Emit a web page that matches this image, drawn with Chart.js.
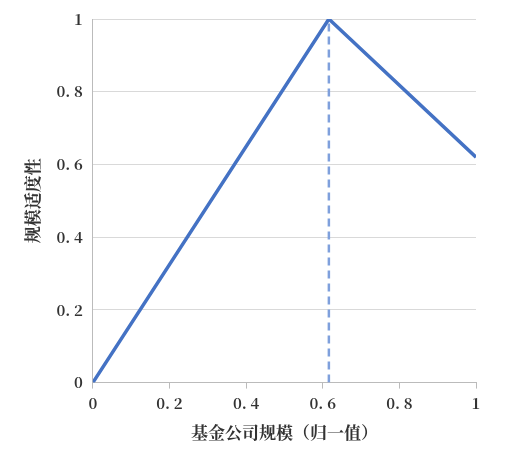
<!DOCTYPE html>
<html><head><meta charset="utf-8">
<script src="https://cdn.jsdelivr.net/npm/chart.js@4"></script>
<style>html,body{margin:0;background:#fff}#wrap{width:518px;height:455px}</style>
</head><body><div id="wrap"><canvas id="c"></canvas></div>
<script>
const lineX = [0, 0.616, 1];
const lineY = [0, 1, 0.62];
const peakX = 0.616;
const xTicks = [0, 0.2, 0.4, 0.6, 0.8, 1];
const yTicks = [0, 0.2, 0.4, 0.6, 0.8, 1];
const fnt = {family: '"Noto Serif CJK SC","Noto Sans CJK SC", serif', size: 15, weight: 'bold'};
const tickFmt = v => String(v).replace('.', '. ');

new Chart(document.getElementById('c'), {
  type: 'scatter',
  data: {
    datasets: [
      {data: lineX.map((x, i) => ({x, y: lineY[i]})), showLine: true, borderColor: '#4472C4', borderWidth: 3.5, pointRadius: 0, tension: 0},
      {data: [{x: peakX, y: 0}, {x: peakX, y: 1}], showLine: true, borderColor: '#7FA0DC', borderWidth: 2.5, borderDash: [8, 5], pointRadius: 0}
    ]
  },
  options: {
    responsive: true, maintainAspectRatio: false, animation: false,
    layout: {padding: {top: 12, right: 42, left: 18, bottom: 8}},
    plugins: {legend: {display: false}, tooltip: {enabled: false}},
    scales: {
      x: {
        type: 'linear', min: 0, max: 1,
        afterBuildTicks: a => { a.ticks = xTicks.map(v => ({value: v})); },
        ticks: {color: '#333', font: fnt, callback: tickFmt, padding: 6},
        grid: {drawOnChartArea: false, color: '#bbb', tickLength: 6},
        border: {color: '#bbb'},
        title: {display: true, text: '基金公司规模（归一值）', color: '#333', font: {...fnt, size: 17}}
      },
      y: {
        min: 0, max: 1,
        afterBuildTicks: a => { a.ticks = yTicks.map(v => ({value: v})); },
        ticks: {color: '#333', font: fnt, callback: tickFmt, padding: 10},
        grid: {color: '#d9d9d9', drawTicks: false},
        border: {color: '#bbb'},
        title: {display: true, text: '规模适度性', color: '#333', font: {...fnt, size: 17}}
      }
    }
  }
});
</script></body></html>
